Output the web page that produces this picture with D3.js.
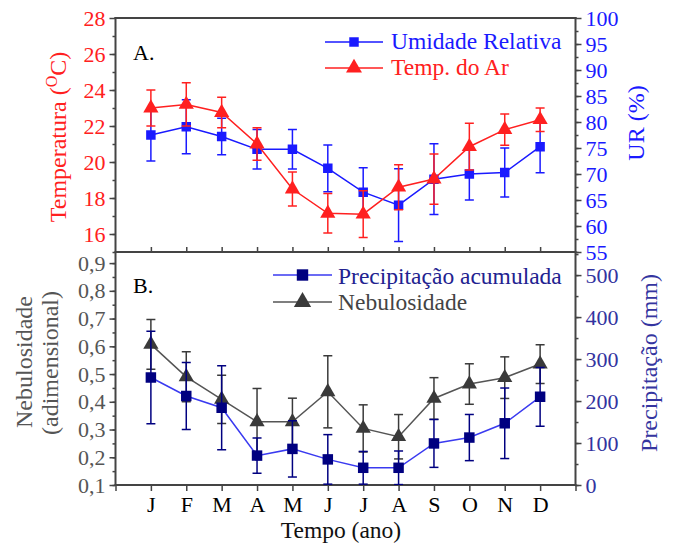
<!DOCTYPE html>
<html>
<head>
<meta charset="utf-8">
<script src="https://cdn.jsdelivr.net/npm/d3@7"></script>
</head>
<body style="margin:0">
<script>
// meses (posições 1..12)
const months = ['J','F','M','A','M','J','J','A','S','O','N','D'];

// painel A
const tempAr   = [23.0, 23.2, 22.75, 21.0, 18.5, 17.15, 17.1, 18.6, 19.05, 20.85, 21.8, 22.35];
const tempErr  = [1.0, 1.2, 0.85, 0.9, 0.95, 1.1, 1.3, 1.25, 1.4, 1.3, 0.87, 0.65];
const umidade  = [77.5, 79.1, 77.2, 74.75, 74.75, 71.1, 66.5, 64.0, 69.0, 70.0, 70.3, 75.25];
const umidErr  = [5.0, 5.2, 3.5, 3.8, 3.8, 4.5, 4.7, 7.0, 6.8, 5.0, 4.7, 5.0];

// painel B
const nebul     = [0.607, 0.49, 0.409, 0.328, 0.328, 0.436, 0.304, 0.274, 0.412, 0.464, 0.487, 0.536];
const nebulErr  = [0.09, 0.09, 0.087, 0.12, 0.085, 0.13, 0.085, 0.08, 0.075, 0.073, 0.075, 0.07];
const precip    = [256, 212, 184, 70, 86, 61, 41, 41, 99, 113, 147, 210];
const precipErr = [110, 80, 100, 42, 67, 59, 39, 40, 57, 55, 84, 70];

// ticks
const tempTicks = [16, 18, 20, 22, 24, 26, 28];
const urTicks = [55, 60, 65, 70, 75, 80, 85, 90, 95, 100];
const nebTicks = [0.1, 0.2, 0.3, 0.4, 0.5, 0.6, 0.7, 0.8, 0.9];
const precTicks = [0, 100, 200, 300, 400, 500];

const W = 676, H = 548;
const left = 115.5, right = 575.5;
const topA = 18, botA = 252, botB = 485;

const red = '#ff2020', blue = '#1a1aff', navy = '#000080', lblue = '#3a3af0', gray = '#3a3a3a', frame = '#444';

const svg = d3.select('body').append('svg')
  .attr('width', W).attr('height', H);

svg.append('rect').attr('width', W).attr('height', H).attr('fill', '#fff');

let x = d3.scaleLinear().domain([0, 13]).range([left, right]);

let yT = d3.scaleLinear().domain([15, 28]).range([botA, topA]);
let yU = d3.scaleLinear().domain([55, 100]).range([botA, topA]);
let yN = d3.scaleLinear().domain([0.1, 0.94]).range([botB, botA]);
let yP = d3.scaleLinear().domain([0, 555]).range([botB, botA]);

const comma = d => d3.format('.1f')(d).replace('.', ',');

// clips
svg.append('clipPath').attr('id', 'clipA').append('rect')
  .attr('x', left).attr('y', topA).attr('width', right - left).attr('height', botA - topA);
svg.append('clipPath').attr('id', 'clipB').append('rect')
  .attr('x', left).attr('y', botA).attr('width', right - left).attr('height', botB - botA);

const styleAxis = (g, color) => {
  g.attr('font-family', null).attr('font-size', null);
  g.select('.domain').remove();
  g.selectAll('.tick line').attr('stroke', frame).attr('stroke-width', 1.5);
  g.selectAll('.tick text').attr('fill', color);
};

const yAxis = (scale, ticks, minor, side, xpos, color, fmt) => {
  const mk = side == 'left' ? d3.axisLeft : d3.axisRight;
  svg.append('g')
    .attr('transform', 'translate(' + xpos + ',0)')
    .call(mk(scale).tickValues(minor).tickSize(3).tickFormat(''))
    .call(g => styleAxis(g, color));
  svg.append('g')
    .attr('transform', 'translate(' + xpos + ',0)')
    .call(mk(scale).tickValues(ticks).tickSize(6).tickPadding(4).tickFormat(fmt || (d => d)))
    .call(g => styleAxis(g, color));
};

yAxis(yT, tempTicks, d3.range(15, 28, 1), 'left', left, red);
yAxis(yU, urTicks, d3.range(55, 100, 2.5), 'right', right, blue);
yAxis(yN, nebTicks, d3.range(0.1, 0.94, 0.05), 'left', left, '#555', comma);
yAxis(yP, precTicks, d3.range(0, 555, 50), 'right', right, '#3333a0');

// eixo x do painel A (ticks para dentro)
svg.append('g')
  .attr('transform', 'translate(0,' + botA + ')')
  .call(d3.axisTop(x).tickValues(d3.range(1, 13)).tickSize(5).tickFormat(''))
  .call(g => styleAxis(g, '#000'));

// eixo x do painel B
svg.append('g')
  .attr('transform', 'translate(0,' + botB + ')')
  .call(d3.axisBottom(x).tickValues(d3.range(0, 14)).tickSize(6).tickPadding(5)
    .tickFormat(d => (d >= 1 && d <= 12) ? months[d - 1] : ''))
  .call(g => styleAxis(g, '#000'));

// molduras
const frameLines = [
  [left, topA, right, topA],
  [left, topA, left, botB],
  [right, topA, right, botB],
  [left, botA, right, botA],
  [left, botB, right, botB]
];
svg.selectAll('.frame').data(frameLines).enter().append('line')
  .attr('x1', d => d[0]).attr('y1', d => d[1]).attr('x2', d => d[2]).attr('y2', d => d[3])
  .attr('stroke', frame).attr('stroke-width', 2).attr('stroke-linecap', 'square');

const drawSeries = (vals, errs, y, clip, lineColor, markColor, symbol, size) => {
  const g = svg.append('g').attr('clip-path', 'url(#' + clip + ')');
  const pts = vals.map((v, i) => ({ m: i + 1, v: v, e: errs[i] }));

  g.append('path').datum(pts)
    .attr('d', d3.line().x(d => x(d.m)).y(d => y(d.v)))
    .attr('fill', 'none').attr('stroke', lineColor).attr('stroke-width', 1.5);

  const eb = g.selectAll('.eb').data(pts).enter().append('g');
  eb.append('line')
    .attr('x1', d => x(d.m)).attr('x2', d => x(d.m))
    .attr('y1', d => y(d.v - d.e)).attr('y2', d => y(d.v + d.e))
    .attr('stroke', markColor).attr('stroke-width', 1.5);
  [1, -1].forEach(s => {
    eb.append('line')
      .attr('x1', d => x(d.m) - 4.5).attr('x2', d => x(d.m) + 4.5)
      .attr('y1', d => y(d.v + s * d.e)).attr('y2', d => y(d.v + s * d.e))
      .attr('stroke', markColor).attr('stroke-width', 1.5);
  });

  g.selectAll('.mk').data(pts).enter().append('path')
    .attr('d', d3.symbol().type(symbol).size(size))
    .attr('transform', d => 'translate(' + x(d.m) + ',' + y(d.v) + ')')
    .attr('fill', markColor);
};

drawSeries(umidade, umidErr, yU, 'clipA', blue, blue, d3.symbolSquare, 90);
drawSeries(tempAr, tempErr, yT, 'clipA', red, red, d3.symbolTriangle, 100);
drawSeries(nebul, nebulErr, yN, 'clipB', '#555', gray, d3.symbolTriangle, 100);
drawSeries(precip, precipErr, yP, 'clipB', lblue, navy, d3.symbolSquare, 110);

// legendas
const legend = (items) => {
  items.forEach(it => {
    svg.append('line')
      .attr('x1', it.x0).attr('x2', it.x1).attr('y1', it.y).attr('y2', it.y)
      .attr('stroke', it.line).attr('stroke-width', 1.5);
    svg.append('path')
      .attr('d', d3.symbol().type(it.sym).size(it.size)())
      .attr('transform', 'translate(' + ((it.x0 + it.x1) / 2) + ',' + it.y + ')')
      .attr('fill', it.mark);
    svg.append('text')
      .attr('class', 'leg')
      .attr('x', it.tx).attr('y', it.ty)
      .attr('fill', it.text)
      .text(it.label);
  });
};

legend([
  { x0: 325, x1: 383, y: 42, line: blue, mark: blue, sym: d3.symbolSquare, size: 90, tx: 391, ty: 49, text: blue, label: 'Umidade Relativa' },
  { x0: 325, x1: 383, y: 68, line: red, mark: red, sym: d3.symbolTriangle, size: 110, tx: 391, ty: 75, text: red, label: 'Temp. do Ar' },
  { x0: 273, x1: 332, y: 275, line: lblue, mark: navy, sym: d3.symbolSquare, size: 130, tx: 338, ty: 284, text: '#222290', label: 'Precipitação acumulada' },
  { x0: 273, x1: 332, y: 302, line: '#555', mark: gray, sym: d3.symbolTriangle, size: 130, tx: 338, ty: 310, text: '#444', label: 'Nebulosidade' }
]);

// rótulos dos painéis
svg.append('text').attr('x', 133).attr('y', 60).text('A.');
svg.append('text').attr('x', 133).attr('y', 293).text('B.');

// títulos dos eixos
const vtitle = (tx, ty, color, build) => {
  const t = svg.append('text')
    .attr('class', 'ttl')
    .attr('transform', 'translate(' + tx + ',' + ty + ') rotate(-90)')
    .attr('text-anchor', 'middle')
    .attr('fill', color);
  build(t);
};

vtitle(66, 137, red, t => {
  t.append('tspan').text('Temperatura (');
  t.append('tspan').attr('class', 'sup').attr('dy', -9).text('O');
  t.append('tspan').attr('dy', 9).text('C)');
});
vtitle(644, 123, blue, t => t.text('UR (%)'));
vtitle(32, 362, '#555', t => t.text('Nebulosidade'));
vtitle(58, 363, '#555', t => t.text('(adimensional)'));
vtitle(657, 363, '#3535a0', t => t.text('Precipitação (mm)'));

svg.append('text').attr('class', 'leg').attr('x', 341).attr('y', 538).attr('text-anchor', 'middle')
  .attr('fill', '#111').text('Tempo (ano)');

// fonte serifada em todos os textos
svg.selectAll('text').style('font-family', '"Liberation Serif", serif').style('font-size', '22px');
svg.selectAll('.leg').style('font-size', '23.5px');
svg.selectAll('.ttl').style('font-size', '24px');
svg.selectAll('.sup').style('font-size', '16px');
</script>
</body>
</html>
